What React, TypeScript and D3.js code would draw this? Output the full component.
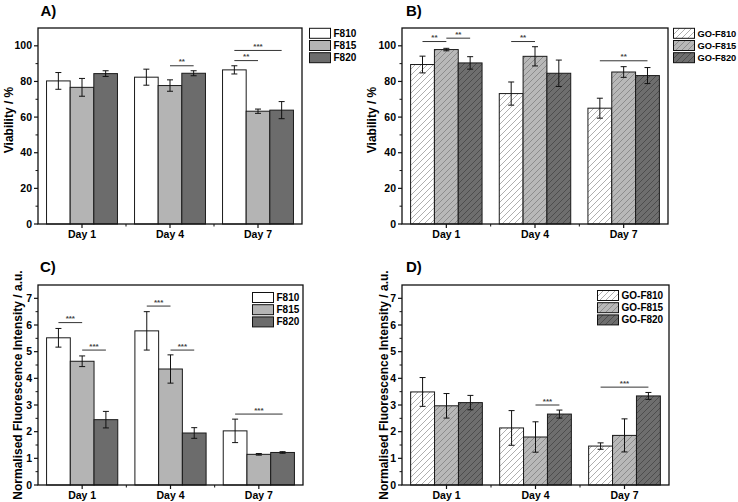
import React from "react";
import * as d3 from "d3";

const days = ["Day 1", "Day 4", "Day 7"];
const plainSeries = ["F810", "F815", "F820"];
const goSeries = ["GO-F810", "GO-F815", "GO-F820"];

// Panel A: viability, plain fibres
const viabF810 = [80.3, 82.4, 86.5];
const viabF810Err = [4.7, 4.5, 2.3];
const viabF815 = [76.7, 77.7, 63.3];
const viabF815Err = [5.0, 3.2, 1.2];
const viabF820 = [84.4, 84.6, 63.9];
const viabF820Err = [1.6, 1.4, 4.8];

// Panel B: viability, GO fibres
const viabGoF810 = [89.5, 73.2, 65.0];
const viabGoF810Err = [4.7, 6.5, 5.6];
const viabGoF815 = [97.9, 94.1, 85.3];
const viabGoF815Err = [0.7, 5.4, 3.0];
const viabGoF820 = [90.4, 84.6, 83.3];
const viabGoF820Err = [3.5, 7.4, 4.5];

// Panel C: fluorescence, plain fibres
const fluoF810 = [5.52, 5.78, 2.03];
const fluoF810Err = [0.35, 0.72, 0.44];
const fluoF815 = [4.64, 4.35, 1.15];
const fluoF815Err = [0.2, 0.53, 0.03];
const fluoF820 = [2.45, 1.95, 1.22];
const fluoF820Err = [0.31, 0.2, 0.03];

// Panel D: fluorescence, GO fibres
const fluoGoF810 = [3.49, 2.14, 1.46];
const fluoGoF810Err = [0.54, 0.65, 0.12];
const fluoGoF815 = [2.97, 1.8, 1.86];
const fluoGoF815Err = [0.46, 0.57, 0.62];
const fluoGoF820 = [3.09, 2.66, 3.34];
const fluoGoF820Err = [0.27, 0.15, 0.13];

const viabTicks = [0, 20, 40, 60, 80, 100];
const fluoTicks = [0, 1, 2, 3, 4, 5, 6, 7];

type Sig = { day: number; from: number; to: number; y: number; label: string };
const sigA: Sig[] = [
  { day: 1, from: 1, to: 2, y: 88.8, label: "**" },
  { day: 2, from: 0, to: 1, y: 91.7, label: "**" },
  { day: 2, from: 0, to: 2, y: 97.4, label: "***" },
];
const sigB: Sig[] = [
  { day: 0, from: 0, to: 1, y: 102.4, label: "**" },
  { day: 0, from: 1, to: 2, y: 104.3, label: "**" },
  { day: 1, from: 0, to: 1, y: 102.4, label: "**" },
  { day: 2, from: 0, to: 2, y: 91.6, label: "**" },
];
const sigC: Sig[] = [
  { day: 0, from: 0, to: 1, y: 6.09, label: "***" },
  { day: 0, from: 1, to: 2, y: 5.06, label: "***" },
  { day: 1, from: 0, to: 1, y: 6.71, label: "***" },
  { day: 1, from: 1, to: 2, y: 5.06, label: "***" },
  { day: 2, from: 0, to: 2, y: 2.66, label: "***" },
];
const sigD: Sig[] = [
  { day: 1, from: 1, to: 2, y: 3.0, label: "***" },
  { day: 2, from: 0, to: 2, y: 3.67, label: "***" },
];

const solidFills = ["#ffffff", "#b4b4b4", "#6c6c6c"];
const hatchFills = ["url(#hatch0)", "url(#hatch1)", "url(#hatch2)"];

const FONT = "'Liberation Sans', Arial, sans-serif";

type PanelProps = {
  title: string;
  titleX: number;
  titleY: number;
  left: number;
  right: number;
  top: number;
  bottom: number;
  yMax: number;
  ticks: number[];
  minorStep: number;
  ylabel: string;
  ylabelX: number;
  ylabelY: number;
  series: string[];
  values: number[][];
  errors: number[][];
  fills: string[];
  sigs: Sig[];
  legendX: number;
  legendY: number;
  legendFont: number;
};

function Panel(p: PanelProps) {
  const x = d3.scaleBand<string>().domain(days).range([p.left, p.right]);
  const bw = x.bandwidth();
  const inner = d3
    .scaleBand<string>()
    .domain(p.series)
    .range([bw * 0.097, bw * 0.903]);
  const ib = inner.bandwidth();
  const y = d3.scaleLinear().domain([0, p.yMax]).range([p.bottom, p.top]);
  const minor = d3
    .range(p.minorStep, p.yMax - 1e-6, p.minorStep)
    .filter((v) => !p.ticks.some((t) => Math.abs(t - v) < 1e-6));
  const cx = (d: number, s: number) =>
    (x(days[d]) as number) + (inner(p.series[s]) as number) + ib / 2;
  const boundaries = [1, 2].map((i) => p.left + i * bw);

  return (
    <g>
      <text
        x={p.titleX}
        y={p.titleY}
        fontFamily={FONT}
        fontWeight="bold"
        fontSize={15}
      >
        {p.title}
      </text>
      {/* bars */}
      {p.series.map((s, si) =>
        days.map((d, di) => {
          const v = p.values[si][di];
          return (
            <rect
              key={s + d}
              x={(x(d) as number) + (inner(s) as number)}
              y={y(v)}
              width={ib}
              height={y(0) - y(v)}
              fill={p.fills[si]}
              stroke="#1a1a1a"
              strokeWidth={1}
            />
          );
        })
      )}
      {/* error bars */}
      {p.series.map((s, si) =>
        days.map((d, di) => {
          const v = p.values[si][di];
          const e = p.errors[si][di];
          const c = cx(di, si);
          return (
            <g key={"e" + s + d} stroke="#111" strokeWidth={1}>
              <line x1={c} x2={c} y1={y(v + e)} y2={y(v - e)} />
              <line x1={c - 3} x2={c + 3} y1={y(v + e)} y2={y(v + e)} />
              <line x1={c - 3} x2={c + 3} y1={y(v - e)} y2={y(v - e)} />
            </g>
          );
        })
      )}
      {/* significance */}
      {p.sigs.map((g, i) => {
        const x1 = cx(g.day, g.from);
        const x2 = cx(g.day, g.to);
        return (
          <g key={"s" + i}>
            <line
              x1={x1}
              x2={x2}
              y1={y(g.y)}
              y2={y(g.y)}
              stroke="#333"
              strokeWidth={1}
            />
            <text
              x={(x1 + x2) / 2}
              y={y(g.y) - 1.5}
              textAnchor="middle"
              fontFamily={FONT}
              fontWeight="bold"
              fontSize={8}
              fill="#444"
            >
              {g.label}
            </text>
          </g>
        );
      })}
      {/* frame */}
      <rect
        x={p.left}
        y={p.top}
        width={p.right - p.left}
        height={p.bottom - p.top}
        fill="none"
        stroke="#111"
        strokeWidth={1.3}
      />
      {/* y ticks */}
      {p.ticks.map((t) => (
        <g key={"yt" + t}>
          <line
            x1={p.left - 4}
            x2={p.left}
            y1={y(t)}
            y2={y(t)}
            stroke="#111"
            strokeWidth={1.2}
          />
          <text
            x={p.left - 6}
            y={y(t)}
            dy="0.35em"
            textAnchor="end"
            fontFamily={FONT}
            fontWeight="bold"
            fontSize={10.5}
          >
            {t}
          </text>
        </g>
      ))}
      {minor.map((t) => (
        <line
          key={"ym" + t}
          x1={p.left - 2.5}
          x2={p.left}
          y1={y(t)}
          y2={y(t)}
          stroke="#111"
          strokeWidth={1}
        />
      ))}
      {/* x ticks */}
      {days.map((d) => {
        const c = (x(d) as number) + bw / 2;
        return (
          <g key={"xt" + d}>
            <line
              x1={c}
              x2={c}
              y1={p.bottom}
              y2={p.bottom + 4}
              stroke="#111"
              strokeWidth={1.2}
            />
            <text
              x={c}
              y={p.bottom + 14}
              textAnchor="middle"
              fontFamily={FONT}
              fontWeight="bold"
              fontSize={10.5}
            >
              {d}
            </text>
          </g>
        );
      })}
      {boundaries.map((b) => (
        <line
          key={"xb" + b}
          x1={b}
          x2={b}
          y1={p.bottom}
          y2={p.bottom + 2.5}
          stroke="#111"
          strokeWidth={1}
        />
      ))}
      {/* y label */}
      <text
        transform={`translate(${p.ylabelX},${p.ylabelY}) rotate(-90)`}
        textAnchor="middle"
        dy="0.35em"
        fontFamily={FONT}
        fontWeight="bold"
        fontSize={12}
      >
        {p.ylabel}
      </text>
      {/* legend */}
      {p.series.map((s, si) => (
        <g key={"lg" + s}>
          <rect
            x={p.legendX}
            y={p.legendY + si * 12.2 - 5}
            width={21}
            height={10}
            fill={p.fills[si]}
            stroke="#111"
            strokeWidth={1}
          />
          <text
            x={p.legendX + 24}
            y={p.legendY + si * 12.2}
            dy="0.35em"
            fontFamily={FONT}
            fontWeight="bold"
            fontSize={p.legendFont}
          >
            {s}
          </text>
        </g>
      ))}
    </g>
  );
}

function Hatch({ id, bg, line }: { id: string; bg: string; line: string }) {
  return (
    <pattern id={id} patternUnits="userSpaceOnUse" width={6} height={6}>
      <rect width={6} height={6} fill={bg} />
      <path
        d="M0,6 L6,0 M-1.5,1.5 L1.5,-1.5 M4.5,7.5 L7.5,4.5"
        stroke={line}
        strokeWidth={0.8}
      />
    </pattern>
  );
}

export default function App() {
  return (
    <svg
      width={738}
      height={502}
      style={{ position: "absolute", left: 0, top: 0, background: "#fff" }}
    >
      <defs>
        <Hatch id="hatch0" bg="#ffffff" line="#9a9a9a" />
        <Hatch id="hatch1" bg="#b8b8b8" line="#808080" />
        <Hatch id="hatch2" bg="#6e6e6e" line="#454545" />
      </defs>
      <rect width={738} height={502} fill="#fff" />
      <Panel
        title="A)"
        titleX={40.5}
        titleY={15.5}
        left={38}
        right={302}
        top={28}
        bottom={224}
        yMax={110}
        ticks={viabTicks}
        minorStep={10}
        ylabel="Viability / %"
        ylabelX={9}
        ylabelY={120}
        series={plainSeries}
        values={[viabF810, viabF815, viabF820]}
        errors={[viabF810Err, viabF815Err, viabF820Err]}
        fills={solidFills}
        sigs={sigA}
        legendX={309.5}
        legendY={33.3}
        legendFont={10}
      />
      <Panel
        title="B)"
        titleX={406}
        titleY={15.5}
        left={402}
        right={668}
        top={28}
        bottom={224}
        yMax={110}
        ticks={viabTicks}
        minorStep={10}
        ylabel="Viability / %"
        ylabelX={372}
        ylabelY={120}
        series={goSeries}
        values={[viabGoF810, viabGoF815, viabGoF820]}
        errors={[viabGoF810Err, viabGoF815Err, viabGoF820Err]}
        fills={hatchFills}
        sigs={sigB}
        legendX={673.5}
        legendY={33.3}
        legendFont={9.3}
      />
      <Panel
        title="C)"
        titleX={40}
        titleY={272}
        left={38}
        right={303}
        top={285}
        bottom={485}
        yMax={7.5}
        ticks={fluoTicks}
        minorStep={0.5}
        ylabel="Normalised Fluorescence Intensity / a.u."
        ylabelX={17.5}
        ylabelY={385}
        series={plainSeries}
        values={[fluoF810, fluoF815, fluoF820]}
        errors={[fluoF810Err, fluoF815Err, fluoF820Err]}
        fills={solidFills}
        sigs={sigC}
        legendX={252.5}
        legendY={297.5}
        legendFont={10}
      />
      <Panel
        title="D)"
        titleX={406}
        titleY={272}
        left={402}
        right={669}
        top={285}
        bottom={485}
        yMax={7.5}
        ticks={fluoTicks}
        minorStep={0.5}
        ylabel="Normalised Fluorescence Intensity / a.u."
        ylabelX={384}
        ylabelY={385}
        series={goSeries}
        values={[fluoGoF810, fluoGoF815, fluoGoF820]}
        errors={[fluoGoF810Err, fluoGoF815Err, fluoGoF820Err]}
        fills={hatchFills}
        sigs={sigD}
        legendX={597.5}
        legendY={295.5}
        legendFont={10}
      />
    </svg>
  );
}
